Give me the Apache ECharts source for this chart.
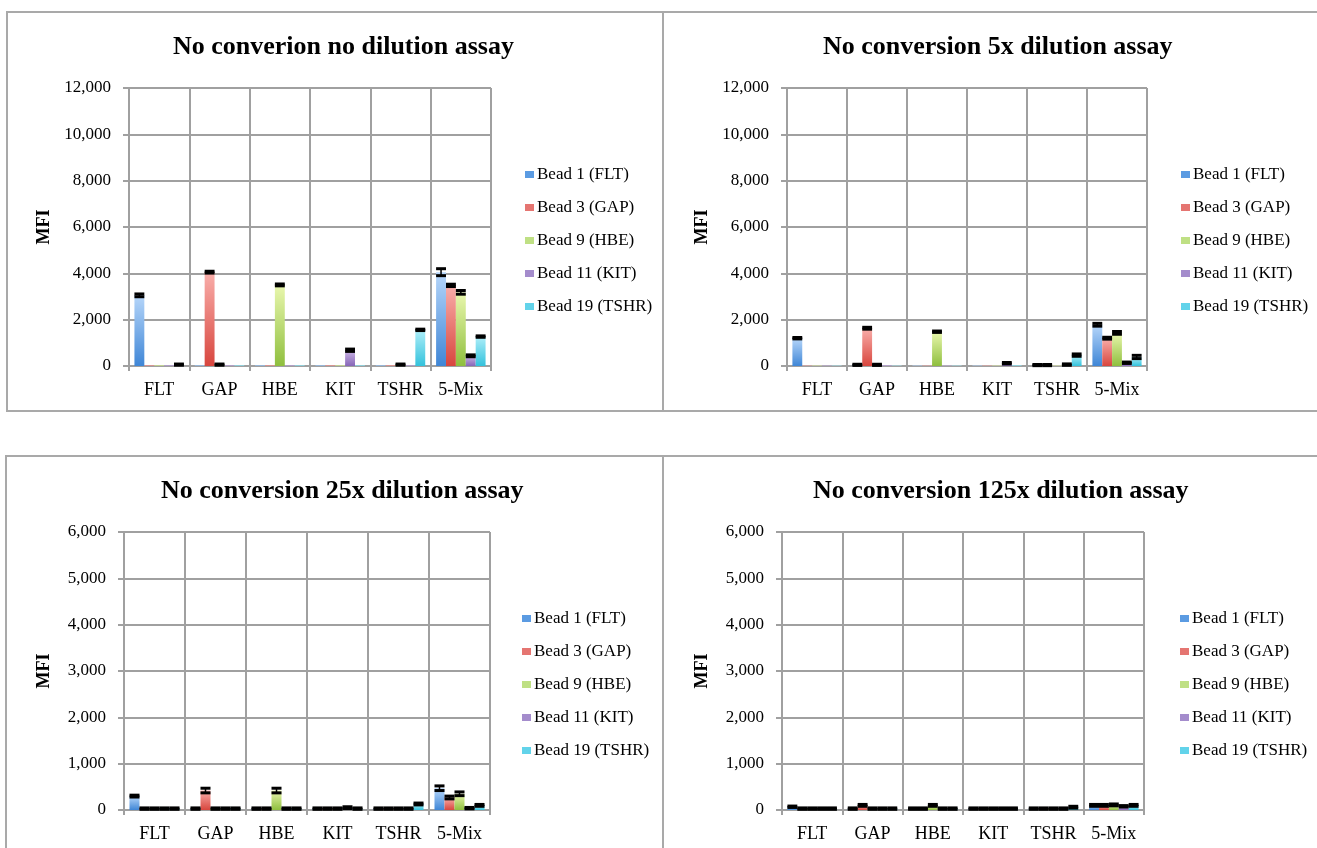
<!DOCTYPE html>
<html lang="en">
<head>
    <meta charset="UTF-8">
    <title>bead assay</title>
    <style type="text/css">
        body { margin: 0; background: #fff; overflow: hidden; }
        .panel {
            position: absolute;
            border: 2px solid #a9a9a9;
            box-sizing: border-box;
        }
        .chart { position: absolute; left: 0; top: 0; }
    </style>
</head>
<body>
    <div class="panel" id="p1" style="left:6px;top:11px;width:658px;height:401px;"><div class="chart" id="c1" style="width:654px;height:397px;"></div></div>
    <div class="panel" id="p2" style="left:662px;top:11px;width:700px;height:401px;"><div class="chart" id="c2" style="width:654px;height:397px;"></div></div>
    <div class="panel" id="p3" style="left:5px;top:455px;width:659px;height:420px;"><div class="chart" id="c3" style="width:655px;height:416px;"></div></div>
    <div class="panel" id="p4" style="left:662px;top:455px;width:700px;height:420px;"><div class="chart" id="c4" style="width:656px;height:416px;"></div></div>
    <script src="https://cdn.jsdelivr.net/npm/echarts@6/dist/echarts.min.js"></script>
    <script type="text/javascript">
        var categories = ['FLT', 'GAP', 'HBE', 'KIT', 'TSHR', '5-Mix'];
        var beads = ['Bead 1 (FLT)', 'Bead 3 (GAP)', 'Bead 9 (HBE)', 'Bead 11 (KIT)', 'Bead 19 (TSHR)'];

        // MFI per bead (rows) and sample (columns)
        var noDilution = [
            [3050, 30, 30, 30, 30, 4050],
            [30, 4050, 30, 30, 30, 3480],
            [30, 60, 3500, 30, 60, 3180],
            [30, 30, 30, 680, 30, 440],
            [60, 30, 30, 30, 1560, 1270]
        ];
        var noDilutionErr = [
            [60, 0, 0, 0, 0, 150],
            [0, 40, 0, 0, 0, 50],
            [0, 25, 40, 0, 25, 80],
            [0, 0, 0, 50, 0, 40],
            [25, 0, 0, 0, 30, 30]
        ];
        var dil5x = [
            [1200, 50, 20, 20, 40, 1780],
            [20, 1630, 20, 20, 40, 1200],
            [20, 50, 1480, 20, 20, 1430],
            [20, 30, 20, 120, 60, 140],
            [20, 20, 20, 30, 470, 390]
        ];
        var dil5xErr = [
            [30, 25, 0, 0, 25, 60],
            [0, 40, 0, 0, 25, 40],
            [0, 25, 30, 0, 0, 60],
            [0, 0, 0, 30, 30, 30],
            [0, 0, 0, 0, 50, 70]
        ];
        var dil25x = [
            [300, 30, 30, 30, 30, 470],
            [30, 420, 30, 30, 30, 270],
            [30, 30, 420, 30, 30, 350],
            [30, 30, 30, 50, 30, 40],
            [30, 30, 30, 30, 130, 100]
        ];
        var dil25xErr = [
            [20, 15, 15, 15, 15, 50],
            [15, 50, 15, 15, 15, 30],
            [15, 15, 50, 15, 15, 40],
            [15, 15, 15, 20, 15, 15],
            [15, 15, 15, 15, 20, 20]
        ];
        var dil125x = [
            [70, 30, 30, 30, 30, 100],
            [30, 100, 30, 30, 30, 100],
            [30, 30, 100, 30, 30, 110],
            [30, 30, 30, 30, 30, 80],
            [30, 30, 30, 30, 60, 100]
        ];
        var dil125xErr = [
            [15, 15, 15, 15, 15, 20],
            [15, 20, 15, 15, 15, 20],
            [15, 15, 20, 15, 15, 20],
            [15, 15, 15, 15, 15, 15],
            [15, 15, 15, 15, 20, 20]
        ];

        var topColors = ['#b6d6fa', '#f9aeaa', '#e9f7ae', '#cbb6e4', '#aeeef9'];
        var bottomColors = ['#3f86d6', '#d8463e', '#8fbf3e', '#8766b8', '#33c2dc'];
        var legendColors = ['#5b9be2', '#e57571', '#bfe084', '#a48ccc', '#62d3ea'];
        var gapRatio = 0.18;
        var serif = '"Liberation Serif", "Times New Roman", serif';

        function fmt(v) {
            return String(v).replace(/\B(?=(\d{3})+(?!\d))/g, ',');
        }

        function makeOption(title, titleLeft, vals, errs, max, interval, gridLeft, gridWidth, legendLeft) {
            var series = [];
            for (var b = 0; b < beads.length; b++) {
                series.push({
                    name: beads[b],
                    type: 'bar',
                    data: vals[b],
                    barGap: '0%',
                    barCategoryGap: (gapRatio * 100) + '%',
                    itemStyle: {
                        color: new echarts.graphic.LinearGradient(0, 0, 0, 1, [
                            { offset: 0, color: topColors[b] },
                            { offset: 1, color: bottomColors[b] }
                        ])
                    }
                });
            }
            var errData = [];
            for (var b2 = 0; b2 < beads.length; b2++) {
                for (var c = 0; c < categories.length; c++) {
                    errData.push([c, vals[b2][c], errs[b2][c], b2]);
                }
            }
            series.push({
                type: 'custom',
                silent: true,
                z: 5,
                encode: { x: 0, y: 1 },
                data: errData,
                renderItem: function (params, api) {
                    var c = api.value(0), v = api.value(1), e = api.value(2), b = api.value(3);
                    if (!e) return null;
                    var catW = api.size([1, 0])[0];
                    var bw = catW * (1 - gapRatio) / 5;
                    var cx = api.coord([c, v])[0] + (b - 2) * bw;
                    var hi = api.coord([c, v + e])[1];
                    var lo = api.coord([c, Math.max(v - e, 0)])[1];
                    var half = bw / 2;
                    return {
                        type: 'group',
                        children: [
                            { type: 'line', shape: { x1: cx, y1: hi, x2: cx, y2: lo }, style: { stroke: '#000', lineWidth: 1.5 } },
                            { type: 'line', shape: { x1: cx - half, y1: hi, x2: cx + half, y2: hi }, style: { stroke: '#000', lineWidth: 3 } },
                            { type: 'line', shape: { x1: cx - half, y1: lo, x2: cx + half, y2: lo }, style: { stroke: '#000', lineWidth: 3 } }
                        ]
                    };
                }
            });
            return {
                animation: false,
                textStyle: { fontFamily: serif },
                title: {
                    text: title,
                    left: titleLeft,
                    top: 16,
                    textStyle: { fontFamily: serif, fontSize: 26, fontWeight: 'bold', color: '#000' }
                },
                legend: {
                    orient: 'vertical',
                    left: legendLeft,
                    top: 148,
                    itemWidth: 9,
                    itemHeight: 7,
                    itemGap: 16,
                    icon: 'rect',
                    textStyle: { fontFamily: serif, fontSize: 17, color: '#000', padding: [0, 0, 0, -2] },
                    data: beads.map(function (n, i) {
                        return { name: n, itemStyle: { color: legendColors[i] } };
                    })
                },
                grid: { left: gridLeft, top: 75, width: gridWidth, height: 278 },
                xAxis: {
                    type: 'category',
                    data: categories,
                    axisLine: { lineStyle: { color: '#a0a0a0', width: 2 } },
                    axisTick: { show: true, length: 5, lineStyle: { color: '#a0a0a0', width: 2 } },
                    axisLabel: { fontFamily: serif, fontSize: 18, color: '#000', margin: 15 },
                    splitLine: { show: true, interval: 0, lineStyle: { color: '#a0a0a0', width: 2 } }
                },
                yAxis: {
                    type: 'value',
                    min: 0,
                    max: max,
                    interval: interval,
                    name: 'MFI',
                    nameLocation: 'middle',
                    nameGap: 71,
                    nameTextStyle: { fontFamily: serif, fontSize: 18, fontWeight: 'bold', color: '#000' },
                    axisLine: { show: true, lineStyle: { color: '#a0a0a0', width: 2 } },
                    axisTick: { show: true, length: 6, lineStyle: { color: '#a0a0a0', width: 2 } },
                    axisLabel: { fontFamily: serif, fontSize: 17, color: '#000', margin: 18, formatter: fmt },
                    splitLine: { show: true, lineStyle: { color: '#a0a0a0', width: 2 } }
                },
                series: series
            };
        }

        var charts = [];
        var c1 = echarts.init(document.getElementById('c1'));
        c1.setOption(makeOption('No converion no dilution assay', 160, noDilution, noDilutionErr, 12000, 2000, 121, 362, 512));
        charts.push(c1);
        var c2 = echarts.init(document.getElementById('c2'));
        c2.setOption(makeOption('No conversion 5x dilution assay', 154, dil5x, dil5xErr, 12000, 2000, 123, 360, 512));
        charts.push(c2);
        var c3 = echarts.init(document.getElementById('c3'));
        c3.setOption(makeOption('No conversion 25x dilution assay', 149, dil25x, dil25xErr, 6000, 1000, 117, 366, 510));
        charts.push(c3);
        var c4 = echarts.init(document.getElementById('c4'));
        c4.setOption(makeOption('No conversion 125x dilution assay', 144, dil125x, dil125xErr, 6000, 1000, 118, 362, 511));
        charts.push(c4);
    </script>
</body>
</html>
